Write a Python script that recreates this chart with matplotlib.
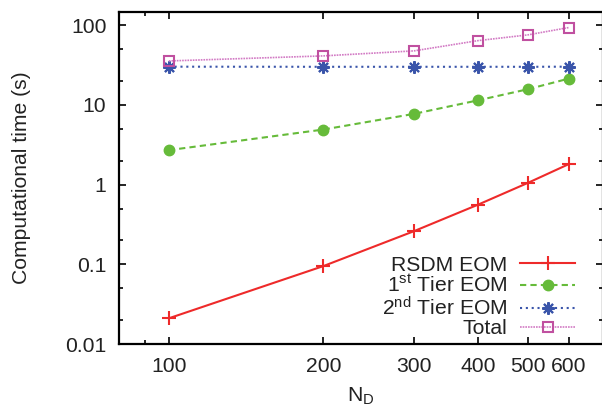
import numpy as np
import matplotlib
matplotlib.use("Agg")
import matplotlib.pyplot as plt
import matplotlib.ticker as ticker

# ── data ──────────────────────────────────────────────────────────────────────
n_d = [100, 200, 300, 400, 500, 600]
rsdm_eom = [0.021, 0.095, 0.26, 0.56, 1.05, 1.8]
tier1_eom = [2.7, 4.9, 7.7, 11.4, 15.7, 21.3]
tier2_eom = [30.1, 30.0, 30.0, 30.0, 30.0, 30.1]
total = [35.5, 41.1, 47.5, 63.9, 75.4, 93.1]

x_ticks = [100, 200, 300, 400, 500, 600]
y_ticks = [0.01, 0.1, 1, 10, 100]
y_tick_labels = ["0.01", "0.1", "1", "10", "100"]

# ── style ─────────────────────────────────────────────────────────────────────
RED = "#ee2a2a"
GREEN = "#66bb3a"
BLUE = "#3a55aa"
PINK = "#c050a0"
PINK_LINE = "#d27ac4"
INK = "#222222"

plt.rcParams.update({
    "font.family": ["Liberation Sans", "DejaVu Sans"],
    "mathtext.fontset": "custom",
    "mathtext.rm": "Liberation Sans",
    "mathtext.it": "Liberation Sans",
    "font.size": 15.2,
    "text.color": INK,
    "axes.labelcolor": INK,
    "xtick.color": "black",
    "ytick.color": "black",
    "xtick.labelcolor": INK,
    "ytick.labelcolor": INK,
})

fig = plt.figure(figsize=(6.02, 4.07), dpi=100)
ax = fig.add_axes([119 / 602, 1 - 344 / 407, 484 / 602, 332 / 407])

ax.plot(n_d, rsdm_eom, color=RED, lw=1.5, marker="+", ms=10, mew=1.5,
        label="RSDM EOM")
ax.plot(n_d, tier1_eom, color=GREEN, lw=1.5, ls=(0, (3, 2)), marker="o",
        ms=7.5, mec=GREEN, label="1$^{\\rm st}$ Tier EOM")
ax.plot(n_d, tier2_eom, color=BLUE, lw=1.5, ls=(0, (1, 1.8)), marker=(8, 2, 0),
        ms=9, mew=1.5, label="2$^{\\rm nd}$ Tier EOM")
ax.plot(n_d, total, color=PINK_LINE, lw=1.2, ls=(0, (1, 0.6)), marker="s",
        ms=7.5, mfc="none", mec=PINK, mew=1.5, label="Total")

ax.set_xscale("log")
ax.set_yscale("log")
ax.set_xlim(80, 700)
ax.set_ylim(0.01, 146)

ax.xaxis.set_major_locator(ticker.FixedLocator(x_ticks))
ax.xaxis.set_major_formatter(ticker.FixedFormatter([str(v) for v in x_ticks]))
ax.xaxis.set_minor_locator(ticker.FixedLocator([90]))
ax.xaxis.set_minor_formatter(ticker.NullFormatter())

ax.yaxis.set_major_locator(ticker.FixedLocator(y_ticks))
ax.yaxis.set_major_formatter(ticker.FixedFormatter(y_tick_labels))
ax.yaxis.set_minor_locator(ticker.LogLocator(base=10, subs=(2.0, 5.0)))
ax.yaxis.set_minor_formatter(ticker.NullFormatter())

ax.tick_params(which="both", direction="in", top=True, right=True, width=1.2)
ax.tick_params(which="major", length=5)
ax.tick_params(which="minor", length=3)
ax.tick_params(axis="x", which="major", pad=9)
ax.tick_params(axis="y", which="major", pad=9)

for sp in ax.spines.values():
    sp.set_linewidth(1.6)

ax.set_xlabel("N$_{\\rm D}$", labelpad=7)
ax.set_ylabel("Computational time (s)", labelpad=25)

leg = ax.legend(loc="lower right", markerfirst=False, frameon=False,
                handlelength=2.6, handletextpad=0.6, labelspacing=0.0,
                borderaxespad=0.0, bbox_to_anchor=(0.96, -0.008))

fig.savefig("out.png", dpi=100)
